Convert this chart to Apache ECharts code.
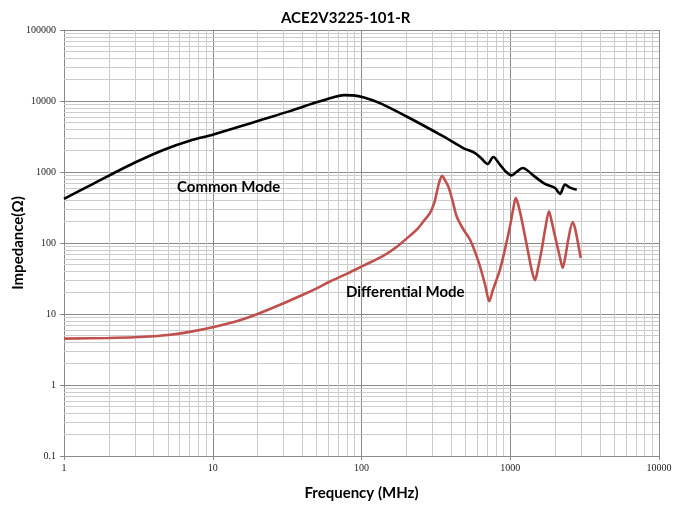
<!DOCTYPE html>
<html>
<head>
<meta charset="utf-8">
<script src="https://cdn.jsdelivr.net/npm/echarts@6/dist/echarts.min.js"></script>
<style>
  html, body { margin: 0; padding: 0; background: #fff; }
  #main { width: 673px; height: 505px; }
</style>
</head>
<body>
<div id="main"></div>
<script>
// Common mode impedance (black)
const cmFreq = [1, 1.5, 2.17, 3, 4.7, 7, 10, 15, 22.1, 33, 48, 65, 76, 88, 104, 133, 201, 355, 483, 580, 640, 705, 769, 853, 930, 1023, 1100, 1213, 1300, 1429, 1713, 2000, 2160, 2335, 2523, 2798];
const cmImp = [417, 650, 968, 1360, 2060, 2750, 3350, 4340, 5560, 7200, 9340, 11300, 12100, 12000, 11200, 9340, 6050, 3170, 2175, 1850, 1550, 1297, 1625, 1267, 1020, 896, 1000, 1137, 1060, 896, 678, 595, 491, 663, 602, 564];

// Differential mode impedance (red)
const dmFreq = [1, 2, 3, 4, 5, 7, 10, 15, 20, 30, 40, 50, 61, 80, 103, 140, 172, 210, 235, 265, 289, 310, 320, 335, 349, 360, 383, 410, 436, 480, 536, 580, 626, 680, 723, 760, 800, 853, 920, 996, 1050, 1088, 1130, 1194, 1322, 1400, 1466, 1540, 1627, 1720, 1821, 1900, 2000, 2150, 2253, 2350, 2455, 2630, 2720, 2798, 2977];
const dmImp = [4.5, 4.6, 4.7, 4.85, 5.05, 5.6, 6.5, 8.1, 10, 14.2, 18.5, 23, 28.5, 37, 48, 66, 88, 125, 154, 210, 265, 380, 507, 750, 887, 800, 627, 390, 238, 160, 112, 75, 47, 25, 15.1, 21, 28.5, 42.3, 80, 172, 310, 431, 350, 213, 72.6, 40, 29.9, 45, 80.7, 160, 279, 200, 124, 65, 44.7, 65, 112, 198, 165, 124, 61.7];

// minor grid positions (2..9 of each decade)
const minorX = [];
for (let d = 1; d <= 1000; d *= 10) {
    for (let k = 2; k <= 9; k++) minorX.push(k * d);
}
const minorY = [];
for (let d = 0.1; d <= 10000.5; d *= 10) {
    for (let k = 2; k <= 9; k++) minorY.push(+(k * d).toPrecision(3));
}

function zip(xs, ys) {
    return xs.map(function (x, i) { return [x, ys[i]]; });
}

let myChart = echarts.init(document.getElementById('main'));

let labelFmt = function (v) { return String(+(+v).toPrecision(6)); };

let option = {
    animation: false,
    title: {
        text: 'ACE2V3225-101-R',
        left: 276,
        top: 6,
        textStyle: { fontFamily: 'Lato', fontWeight: 'bold', fontSize: 15, color: '#000' }
    },
    grid: { left: 64, right: 14, top: 30, bottom: 49, containLabel: false, outerBoundsMode: 'none' },
    xAxis: {
        type: 'log',
        logBase: 10,
        min: 1,
        max: 10000,
        interval: 1,
        name: 'Frequency (MHz)',
        nameLocation: 'middle',
        nameGap: 30,
        nameMoveOverlap: false,
        nameTextStyle: { fontFamily: 'Lato', fontWeight: 'bold', fontSize: 15, color: '#000' },
        axisLine: { show: true, lineStyle: { color: '#8a8a8a' } },
        axisTick: { show: true, length: 4, lineStyle: { color: '#8a8a8a' } },
        axisLabel: { margin: 7, fontFamily: 'Liberation Serif', fontSize: 10, color: '#222', formatter: labelFmt },
        splitLine: { show: true, lineStyle: { color: '#8a8a8a', width: 1 } }
    },
    yAxis: {
        type: 'log',
        logBase: 10,
        min: 0.1,
        max: 100000,
        interval: 1,
        name: 'Impedance(Ω)',
        nameLocation: 'middle',
        nameGap: 38,
        nameRotate: 90,
        nameMoveOverlap: false,
        nameTextStyle: { fontFamily: 'Lato', fontWeight: 'bold', fontSize: 15, color: '#000' },
        axisLine: { show: true, lineStyle: { color: '#8a8a8a' } },
        axisTick: { show: true, length: 4, lineStyle: { color: '#8a8a8a' } },
        axisLabel: { margin: 8, fontFamily: 'Liberation Serif', fontSize: 10, color: '#222', formatter: labelFmt },
        splitLine: { show: true, lineStyle: { color: '#8a8a8a', width: 1 } }
    },
    series: [
        {
            // minor grid lines
            type: 'line',
            data: [],
            z: 1,
            silent: true,
            markLine: {
                silent: true,
                z: 1,
                symbol: 'none',
                label: { show: false },
                lineStyle: { color: '#cccccc', width: 1, type: 'solid' },
                emphasis: { disabled: true },
                data: minorX.map(function (v) { return { xAxis: v }; })
                    .concat(minorY.map(function (v) { return { yAxis: v }; }))
            }
        },
        {
            name: 'Common Mode',
            type: 'line',
            data: zip(cmFreq, cmImp),
            z: 3,
            smooth: 0.3,
            showSymbol: false,
            lineStyle: { color: '#000', width: 2.6 }
        },
        {
            name: 'Differential Mode',
            type: 'line',
            data: zip(dmFreq, dmImp),
            z: 3,
            smooth: 0.3,
            showSymbol: false,
            lineStyle: { color: '#c0504d', width: 2.6 }
        }
    ],
    graphic: [
        {
            type: 'text',
            left: 177,
            top: 180,
            z: 10,
            style: { text: 'Common Mode', font: 'bold 15px Lato', fill: '#000' }
        },
        {
            type: 'text',
            left: 346,
            top: 285,
            z: 10,
            style: { text: 'Differential Mode', font: 'bold 15px Lato', fill: '#000' }
        }
    ]
};

myChart.setOption(option);
</script>
</body>
</html>
